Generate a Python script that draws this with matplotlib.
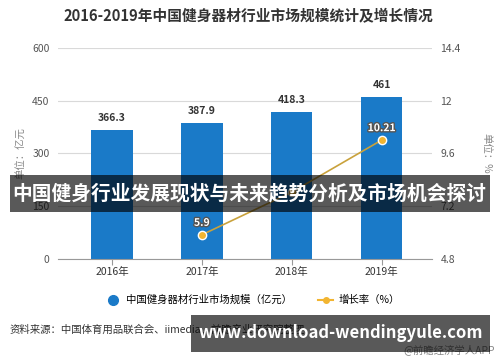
import matplotlib
matplotlib.use("Agg")
import matplotlib.pyplot as plt
import matplotlib.patheffects as pe
from matplotlib.lines import Line2D
from matplotlib.patches import Rectangle

plt.rcParams['font.family'] = ['Noto Sans CJK SC', 'DejaVu Sans']

years = ["2016年", "2017年", "2018年", "2019年"]
market = [366.3, 387.9, 418.3, 461]
growth_years = [1, 2, 3]
growth = [5.9, 7.84, 10.21]
growth_labels = ["5.9", "", "10.21"]  # 2018 label sits under the banner
left_ticks = [0, 150, 300, 450, 600]
right_ticks = [4.8, 7.2, 9.6, 12, 14.4]

BLUE = "#1a7ac8"
GOLD = "#f2b531"
LINE = "#c9a23c"
GRID = "#d9d9d9"
TXT = "#555555"

fig = plt.figure(figsize=(5, 3.62), dpi=100)
ax = fig.add_axes([0.116, 0.2845, 0.748, 0.583])
ax2 = ax.twinx()

x = list(range(len(years)))
ax.bar(x, market, width=0.46, color=BLUE, zorder=2)
for xi, v in zip(x, market):
    ax.annotate(f"{v:g}", (xi, v), xytext=(0, 5), textcoords="offset points",
                ha="center", va="bottom", fontsize=7.5, fontweight="bold", color="#333333")

ax.set_ylim(0, 600)
ax.set_yticks(left_ticks)
ax.set_xlim(-0.6, 3.56)
ax.set_xticks(x)
ax.set_xticklabels(years)
ax.grid(axis="y", color=GRID, linewidth=0.8, zorder=0)
ax.set_axisbelow(True)
for s in ["top", "right", "left"]:
    ax.spines[s].set_visible(False)
ax.spines["bottom"].set_color("#999999")
ax.tick_params(axis="y", length=0, labelsize=7.5, labelcolor=TXT, pad=6)
ax.tick_params(axis="x", length=4, color="#999999", labelsize=7.5, labelcolor="#333333", pad=2)
ax.set_ylabel("单位：亿元", fontsize=7.5, color="#888888", labelpad=4)

ax2.plot(growth_years, growth, color=LINE, linewidth=1.2, marker="o", markersize=6,
         markerfacecolor=GOLD, markeredgecolor="white", markeredgewidth=1, zorder=3)
for xi, v, lab in zip(growth_years, growth, growth_labels):
    if not lab:
        continue
    ax2.annotate(lab, (xi, v), xytext=(0, 5), textcoords="offset points",
                 ha="center", va="bottom", fontsize=7.5, fontweight="bold", color="white",
                 path_effects=[pe.withStroke(linewidth=2, foreground="#555555")])
ax2.set_ylim(4.8, 14.4)
ax2.set_yticks(right_ticks)
ax2.set_yticklabels([f"{t:g}" for t in right_ticks])
for s in ["top", "right", "left", "bottom"]:
    ax2.spines[s].set_visible(False)
ax2.tick_params(axis="y", length=0, labelsize=7.5, labelcolor=TXT, pad=6)
ax2.set_ylabel("单位：%", fontsize=7.5, color="#888888", rotation=270, labelpad=22)

fig.text(0.497, 0.955, "2016-2019年中国健身器材行业市场规模统计及增长情况",
         ha="center", va="center", fontsize=10.6, fontweight="bold", color="#333333")

handles = [Line2D([], [], linestyle="none", marker="o", markersize=7, color=BLUE),
           Line2D([], [], color=GOLD, marker="o", markersize=4, linewidth=1.5)]
fig.legend(handles, ["中国健身器材行业市场规模（亿元）", "增长率（%）"], loc="center",
           bbox_to_anchor=(0.505, 0.171), ncol=2, frameon=False, fontsize=7.5,
           handlelength=1.5, columnspacing=2.5, handletextpad=0.5)

fig.text(0.02, 0.09, "资料来源：中国体育用品联合会、iimedia、前瞻产业研究院整理",
         ha="left", va="center", fontsize=7.5, color="#333333")
fig.text(0.99, 0.035, "@前瞻经济学人APP", ha="right", va="center", fontsize=7.5, color="#888888")

# overlay banners
fig.patches.append(Rectangle((0.02, 0.4144), 0.96, 0.1022, transform=fig.transFigure,
                             facecolor="black", alpha=0.65, zorder=10))
fig.text(0.498, 0.466, "中国健身行业发展现状与未来趋势分析及市场机会探讨", ha="center", va="center",
         fontsize=14.2, fontweight="bold", color="white", zorder=11)
fig.patches.append(Rectangle((0.382, 0.028), 0.598, 0.102, transform=fig.transFigure,
                             facecolor="black", alpha=0.65, zorder=10))
fig.text(0.681, 0.08, "www.download-wendingyule.com", ha="center", va="center",
         fontsize=12, fontweight="bold", color="white", zorder=11)

fig.savefig("out.png", dpi=100)
